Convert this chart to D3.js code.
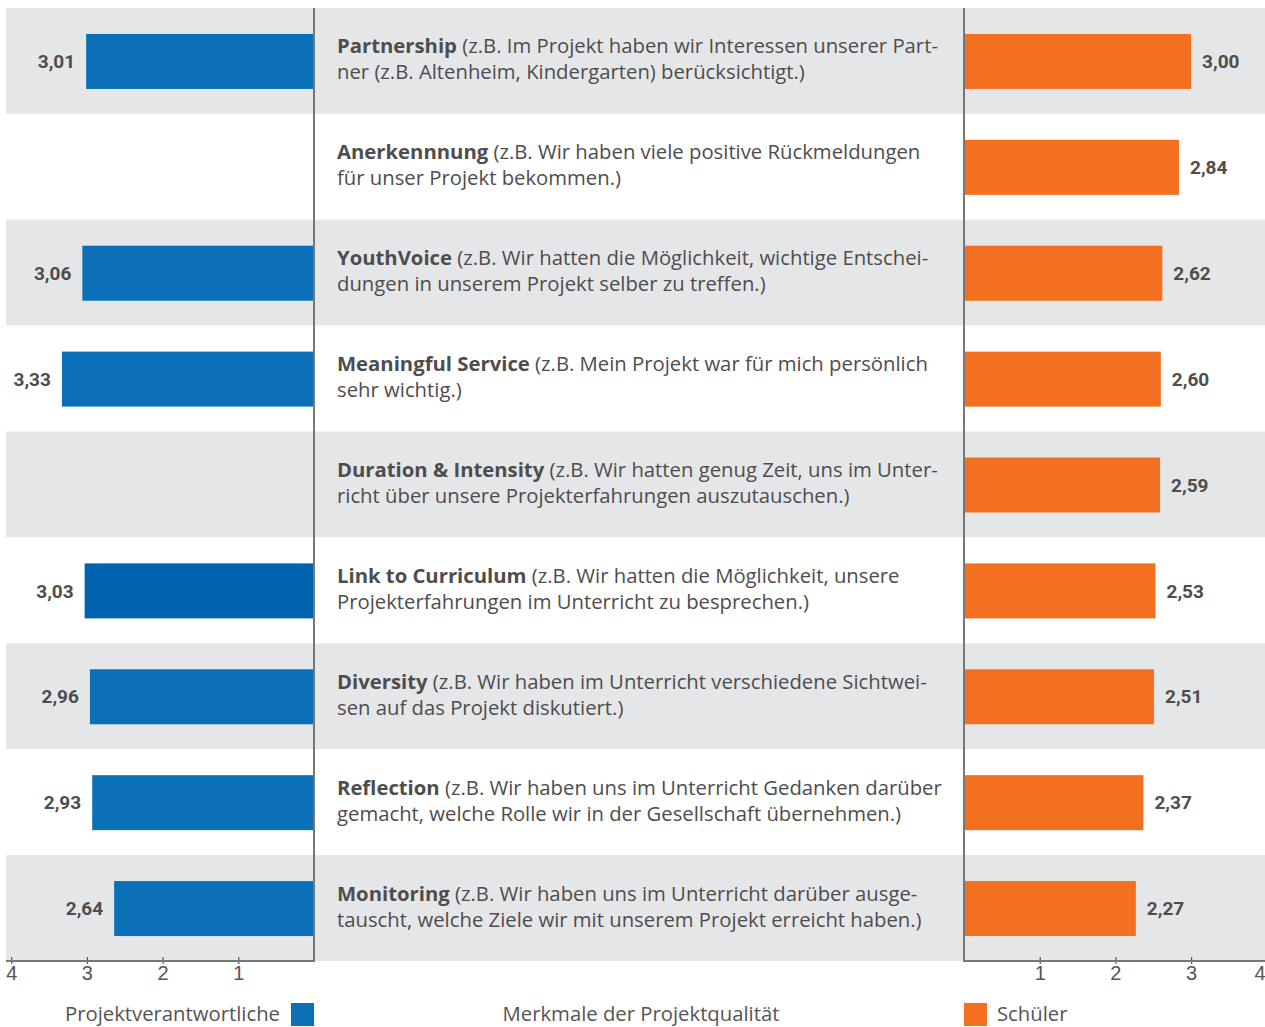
<!DOCTYPE html>
<html><head><meta charset="utf-8">
<script src="https://cdn.jsdelivr.net/npm/d3@7"></script>
<style>
html,body{margin:0;padding:0;background:#fff;}
svg{display:block;font-family:"Open Sans", Roboto, sans-serif;}
</style></head>
<body>
<svg id="chart" width="1265" height="1027"></svg>
<script>
const categories = ["Partnership","Anerkennnung","YouthVoice","Meaningful Service","Duration & Intensity","Link to Curriculum","Diversity","Reflection","Monitoring"];
const descLine1 = [
 " (z.B. Im Projekt haben wir Interessen unserer Part-",
 " (z.B. Wir haben viele positive Rückmeldungen",
 " (z.B. Wir hatten die Möglichkeit, wichtige Entschei-",
 " (z.B. Mein Projekt war für mich persönlich",
 " (z.B. Wir hatten genug Zeit, uns im Unter-",
 " (z.B. Wir hatten die Möglichkeit, unsere",
 " (z.B. Wir haben im Unterricht verschiedene Sichtwei-",
 " (z.B. Wir haben uns im Unterricht Gedanken darüber",
 " (z.B. Wir haben uns im Unterricht darüber ausge-"
];
const descLine2 = [
 "ner (z.B. Altenheim, Kindergarten) berücksichtigt.)",
 "für unser Projekt bekommen.)",
 "dungen in unserem Projekt selber zu treffen.)",
 "sehr wichtig.)",
 "richt über unsere Projekterfahrungen auszutauschen.)",
 "Projekterfahrungen im Unterricht zu besprechen.)",
 "sen auf das Projekt diskutiert.)",
 "gemacht, welche Rolle wir in der Gesellschaft übernehmen.)",
 "tauscht, welche Ziele wir mit unserem Projekt erreicht haben.)"
];
const projektverantwortliche = [3.01, null, 3.06, 3.33, null, 3.03, 2.96, 2.93, 2.64];
const schueler = [3.00, 2.84, 2.62, 2.60, 2.59, 2.53, 2.51, 2.37, 2.27];
const tickValues = [1, 2, 3, 4];
const legendLeft = "Projektverantwortliche";
const legendRight = "Schüler";
const legendMiddle = "Merkmale der Projektqualität";

const svg = d3.select("#chart");
const yTop = 8, yBottom = 961, leftEdge = 6, rightEdge = 1265;
const leftZero = 314, rightZero = 964, unit = 75.7;
const blue = "#0b70b8", blueDark = "#0063b0", orange = "#f37021";
const grey = "#e5e6e8", lineCol = "#777", textCol = "#4d4d4d";
const descFont = 20.3;

const y = d3.scaleBand().domain(d3.range(categories.length)).range([yTop, yBottom]).paddingInner(0).paddingOuter(0);
const barH = 55;
const xL = d3.scaleLinear().domain([0, 4]).range([leftZero, leftZero - 4 * unit]);
const xR = d3.scaleLinear().domain([0, 4]).range([rightZero, rightZero + 4 * unit]);

// background bands
svg.append("g").selectAll("rect").data(categories).join("rect")
  .attr("x", leftEdge).attr("width", rightEdge - leftEdge)
  .attr("y", (d, i) => y(i)).attr("height", y.bandwidth())
  .attr("fill", (d, i) => i % 2 === 0 ? grey : "#fff");

const bc = i => y(i) + y.bandwidth() / 2 + 0.5;

// left bars
const lg = svg.append("g");
const leftData = projektverantwortliche.map((v, i) => ({v, i})).filter(d => d.v != null);
lg.selectAll("rect").data(leftData).join("rect")
  .attr("x", d => xL(d.v)).attr("width", d => xL(0) - xL(d.v))
  .attr("y", d => bc(d.i) - barH / 2).attr("height", barH)
  .attr("fill", d => d.i === 5 ? blueDark : blue);
lg.selectAll("text").data(leftData).join("text")
  .attr("x", d => xL(d.v) - 11).attr("y", d => bc(d.i)).attr("dy", "0.35em")
  .attr("text-anchor", "end").attr("font-weight", "bold").attr("font-size", 19).attr("fill", textCol)
  .attr("font-family", "Roboto, sans-serif")
  .text(d => d.v.toFixed(2).replace(".", ","));

// right bars
const rg = svg.append("g");
const rightData = schueler.map((v, i) => ({v, i}));
rg.selectAll("rect").data(rightData).join("rect")
  .attr("x", xR(0)).attr("width", d => xR(d.v) - xR(0))
  .attr("y", d => bc(d.i) - barH / 2).attr("height", barH)
  .attr("fill", orange);
rg.selectAll("text").data(rightData).join("text")
  .attr("x", d => xR(d.v) + 11).attr("y", d => bc(d.i)).attr("dy", "0.35em")
  .attr("text-anchor", "start").attr("font-weight", "bold").attr("font-size", 19).attr("fill", textCol)
  .attr("font-family", "Roboto, sans-serif")
  .text(d => d.v.toFixed(2).replace(".", ","));

// descriptions
const tg = svg.append("g");
categories.forEach((c, i) => {
  const t1 = tg.append("text").attr("x", 337).attr("y", bc(i) - 8).attr("font-size", descFont).attr("fill", textCol);
  t1.append("tspan").attr("font-weight", "bold").text(c);
  t1.append("tspan").text(descLine1[i]);
  tg.append("text").attr("x", 337).attr("y", bc(i) + 18).attr("font-size", descFont).attr("fill", textCol).text(descLine2[i]);
});

// vertical lines
[leftZero, rightZero].forEach(x => {
  svg.append("line").attr("x1", x).attr("x2", x).attr("y1", yTop).attr("y2", yBottom)
    .attr("stroke", lineCol).attr("stroke-width", 2);
});

// axes
function styleAxis(g, x0, x1) {
  g.select(".domain").remove();
  g.append("line").attr("x1", x0).attr("x2", x1).attr("y1", 0).attr("y2", 0).attr("stroke", lineCol).attr("stroke-width", 2);
  g.selectAll(".tick line").attr("y1", -4).attr("y2", 3).attr("stroke", "#555").attr("stroke-width", 1.2);
  g.selectAll(".tick text").attr("font-size", 20).attr("fill", "#555").attr("dy", "0.71em").attr("y", 5);
}
const axL = svg.append("g").attr("transform", `translate(0,${yBottom})`)
  .call(d3.axisBottom(xL).tickValues(tickValues).tickSize(3).tickFormat(d3.format("d")));
styleAxis(axL, leftEdge, leftZero + 1);
const axR = svg.append("g").attr("transform", `translate(0,${yBottom})`)
  .call(d3.axisBottom(xR).tickValues(tickValues).tickSize(3).tickFormat(d3.format("d")));
styleAxis(axR, rightZero - 1, rightEdge);
axR.selectAll(".tick text").filter(d => d === 4).attr("text-anchor", "end").attr("x", rightEdge - xR(4));

// legend
svg.append("rect").attr("x", 291).attr("y", 1003).attr("width", 23).attr("height", 23).attr("fill", blue);
svg.append("text").attr("x", 280).attr("y", 1021).attr("text-anchor", "end").attr("font-size", descFont).attr("fill", "#555").text(legendLeft);
svg.append("rect").attr("x", 964).attr("y", 1003).attr("width", 23).attr("height", 23).attr("fill", orange);
svg.append("text").attr("x", 997).attr("y", 1021).attr("font-size", descFont).attr("fill", "#555").text(legendRight);
svg.append("text").attr("x", 641).attr("y", 1021).attr("text-anchor", "middle").attr("font-size", descFont).attr("fill", "#555").text(legendMiddle);
</script>
</body></html>
